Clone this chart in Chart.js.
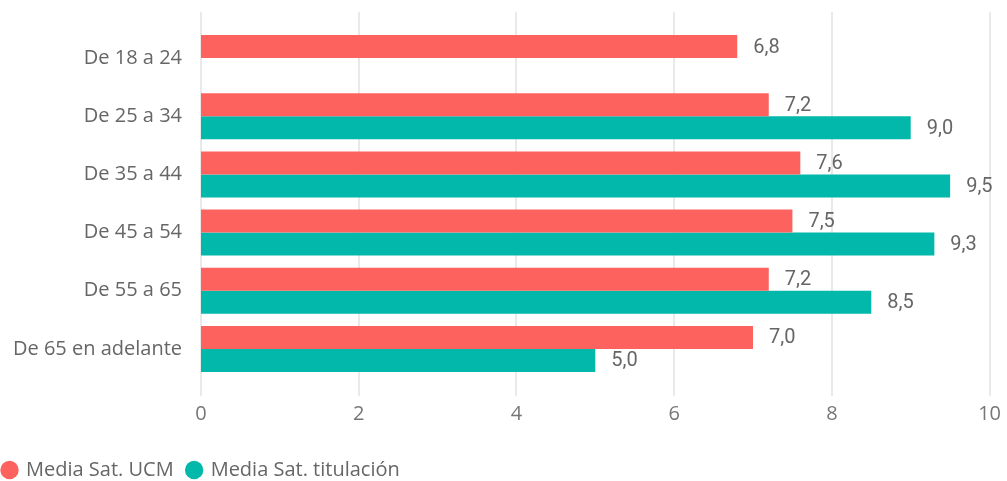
<!DOCTYPE html>
<html>
<head>
<meta charset="utf-8">
<script src="https://cdn.jsdelivr.net/npm/chart.js@4/dist/chart.umd.min.js"></script>
<style>
  html, body { margin: 0; padding: 0; background: #fff; }
  #wrap { width: 1007px; height: 481px; position: relative; overflow: hidden; }
  /* canvas is a bit bigger than the view so the legend can sit flush left */
  #inner { position: absolute; left: -11px; top: 0; width: 1036px; height: 490px; }
</style>
</head>
<body>
<div id="wrap"><div id="inner"><canvas id="myChart"></canvas></div></div>
<script>
const categories = ['De 18 a 24', 'De 25 a 34', 'De 35 a 44', 'De 45 a 54', 'De 55 a 65', 'De 65 en adelante'];
const mediaUCM = [6.8, 7.2, 7.6, 7.5, 7.2, 7.0];
const mediaTitulacion = [null, 9.0, 9.5, 9.3, 8.5, 5.0];
const xTicks = [0, 2, 4, 6, 8, 10];

const FONT = "'Open Sans', 'Noto Sans', sans-serif";

// gridlines that run a bit past the bars, like the original
const tallGrid = {
    id: 'tallGrid',
    beforeDatasetsDraw(chart) {
        const { ctx, chartArea, scales: { x } } = chart;
        ctx.save();
        ctx.strokeStyle = '#e9e9e9';
        ctx.lineWidth = 2;
        xTicks.forEach(v => {
            const px = Math.round(x.getPixelForValue(v));
            ctx.beginPath();
            ctx.moveTo(px, chartArea.top - 17);
            ctx.lineTo(px, chartArea.bottom + 18);
            ctx.stroke();
        });
        ctx.restore();
    }
};

// value labels at the end of each bar, decimal comma
const valueLabels = {
    id: 'valueLabels',
    afterDatasetsDraw(chart) {
        const { ctx } = chart;
        ctx.save();
        ctx.fillStyle = '#666666';
        ctx.font = `400 20px Roboto, ${FONT}`;
        ctx.textAlign = 'left';
        ctx.textBaseline = 'middle';
        chart.data.datasets.forEach((ds, i) => {
            const meta = chart.getDatasetMeta(i);
            meta.data.forEach((bar, j) => {
                const v = ds.data[j];
                if (v === null || v === undefined) return;
                ctx.fillText(v.toFixed(1).replace('.', ','), bar.x + 16, bar.y + 1);
            });
        });
        ctx.restore();
    }
};

const ctx = document.getElementById('myChart').getContext('2d');
const myChart = new Chart(ctx, {
    type: 'bar',
    data: {
        labels: categories,
        datasets: [{
            label: 'Media Sat. UCM',
            data: mediaUCM,
            backgroundColor: '#FD625E',
            borderWidth: 0
        }, {
            label: 'Media Sat. titulación',
            data: mediaTitulacion,
            backgroundColor: '#01B8AA',
            borderWidth: 0
        }]
    },
    options: {
        indexAxis: 'y',
        responsive: true,
        maintainAspectRatio: false,
        animation: false,
        categoryPercentage: 0.79,
        barPercentage: 1,
        layout: { padding: { top: 29, right: 6, left: 0, bottom: 0 } },
        plugins: {
            legend: {
                position: 'bottom',
                align: 'start',
                labels: {
                    usePointStyle: true,
                    pointStyle: 'circle',
                    boxWidth: 13,
                    boxHeight: 13,
                    padding: 14,
                    color: '#666666',
                    font: { family: FONT, size: 20 }
                }
            },
            tooltip: { enabled: false }
        },
        scales: {
            x: {
                min: 0,
                max: 10,
                afterBuildTicks: (axis) => { axis.ticks = xTicks.map(v => ({ value: v })); },
                afterFit: (axis) => { axis.height = 68; },
                grid: { display: false, drawTicks: false },
                border: { display: false },
                ticks: {
                    color: '#777777',
                    padding: 24,
                    font: { family: FONT, size: 20 }
                }
            },
            y: {
                afterFit: (axis) => {
                    axis.width = 212;
                    axis.paddingTop = 0;
                    axis.paddingBottom = 0;
                },
                grid: { display: false, drawTicks: false },
                border: { display: false },
                ticks: {
                    color: '#666666',
                    padding: 19,
                    font: { family: FONT, size: 20 }
                }
            }
        }
    },
    plugins: [tallGrid, valueLabels]
});
</script>
</body>
</html>
